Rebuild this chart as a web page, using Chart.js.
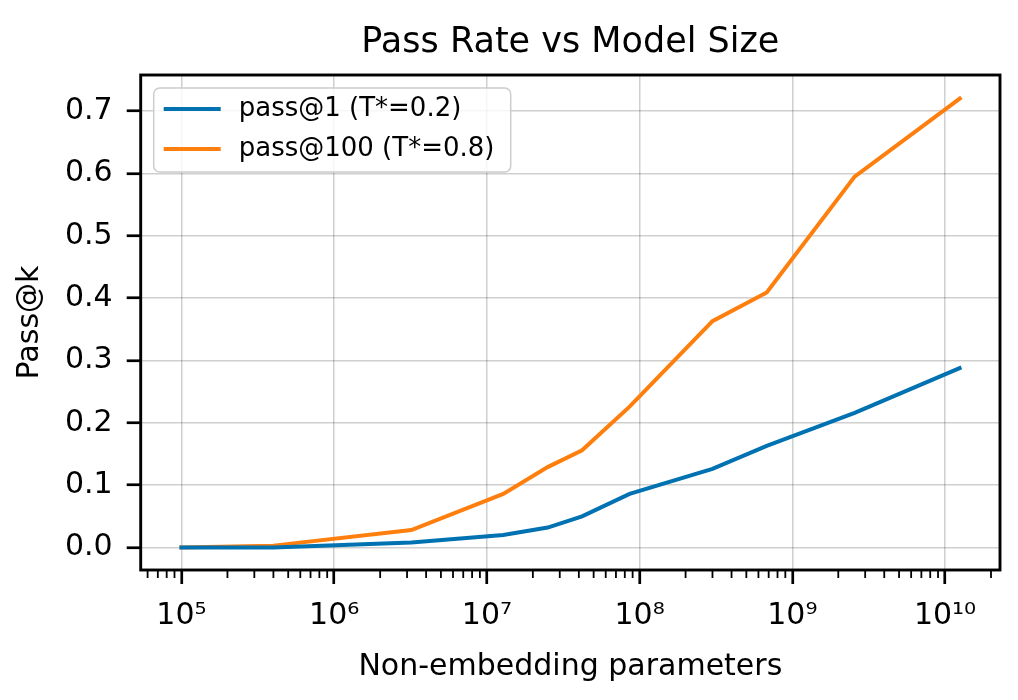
<!DOCTYPE html>
<html>
<head>
<meta charset="utf-8">
<title>Pass Rate vs Model Size</title>
<script src="https://cdn.jsdelivr.net/npm/chart.js@4.4.0/dist/chart.umd.min.js"></script>
<style>
  html, body { margin: 0; padding: 0; background: #ffffff; }
  #wrap { width: 1018px; height: 700px; }
</style>
</head>
<body>
<div id="wrap"><canvas id="passChart" width="1018" height="700"></canvas></div>
<script>
// Data
const paramCounts = [9.7e4, 4.0e5, 3.2e6, 1.28e7, 2.5e7, 4.2e7, 8.6e7, 3.0e8, 6.8e8, 2.56e9, 1.28e10];
const pass1 = [0.000, 0.000, 0.008, 0.020, 0.032, 0.050, 0.086, 0.126, 0.163, 0.216, 0.289];
const pass100 = [0.000, 0.003, 0.028, 0.086, 0.129, 0.156, 0.226, 0.363, 0.409, 0.595, 0.722];
const seriesLabels = ['pass@1 (T*=0.2)', 'pass@100 (T*=0.8)'];
const yTicks = [0.0, 0.1, 0.2, 0.3, 0.4, 0.5, 0.6, 0.7];
const xDecades = [4, 5, 6, 7, 8, 9, 10];

const FONT = '"DejaVu Sans", sans-serif';
const SUP = { '0': '⁰', '1': '¹', '2': '²', '3': '³', '4': '⁴', '5': '⁵', '6': '⁶', '7': '⁷', '8': '⁸', '9': '⁹' };
const X_MIN = Math.pow(10, 4.733);
const X_MAX = Math.pow(10, 10.36);

Chart.defaults.font.family = FONT;
Chart.defaults.color = '#000';

function toPoints(ys) {
    return paramCounts.map((x, i) => ({ x: x, y: ys[i] }));
}

function isDecade(v) {
    const l = Math.log10(v);
    return Math.abs(l - Math.round(l)) < 1e-9;
}

// Frame round the plot, minor log ticks and the boxed legend
const decorations = {
    id: 'decorations',
    afterDatasetsDraw(chart) {
        const ctx = chart.ctx;
        const area = chart.chartArea;
        const xs = chart.scales.x;
        ctx.save();

        // minor ticks
        ctx.strokeStyle = '#000';
        ctx.lineWidth = 1.8;
        xs.ticks.forEach(t => {
            if (t.major) return;
            const px = xs.getPixelForValue(t.value);
            ctx.beginPath();
            ctx.moveTo(px, area.bottom);
            ctx.lineTo(px, area.bottom + 8);
            ctx.stroke();
        });

        // frame
        ctx.lineWidth = 2.9;
        ctx.strokeRect(area.left, area.top, area.right - area.left, area.bottom - area.top);

        // legend
        const x0 = area.left + 13, y0 = area.top + 13, w = 357, h = 84;
        ctx.fillStyle = 'rgba(255,255,255,0.8)';
        ctx.strokeStyle = '#cccccc';
        ctx.lineWidth = 1.5;
        ctx.beginPath();
        ctx.roundRect(x0, y0, w, h, 6);
        ctx.fill();
        ctx.stroke();
        ctx.font = '26px ' + FONT;
        ctx.textBaseline = 'middle';
        chart.data.datasets.forEach((ds, i) => {
            const y = y0 + 21 + i * 40;
            ctx.strokeStyle = ds.borderColor;
            ctx.lineWidth = ds.borderWidth;
            ctx.beginPath();
            ctx.moveTo(x0 + 10, y);
            ctx.lineTo(x0 + 67, y);
            ctx.stroke();
            ctx.fillStyle = '#000';
            ctx.fillText(ds.label, x0 + 85, y);
        });
        ctx.restore();
    }
};

const ctx = document.getElementById('passChart').getContext('2d');
new Chart(ctx, {
    type: 'line',
    data: {
        datasets: [{
            label: seriesLabels[0],
            data: toPoints(pass1),
            borderColor: '#0072b2',
            borderWidth: 4,
            pointRadius: 0,
            tension: 0
        }, {
            label: seriesLabels[1],
            data: toPoints(pass100),
            borderColor: '#ff7f0e',
            borderWidth: 4,
            pointRadius: 0,
            tension: 0
        }]
    },
    options: {
        responsive: false,
        animation: false,
        devicePixelRatio: 1,
        layout: { padding: { left: 0, right: 18, top: 0, bottom: 0 } },
        plugins: {
            legend: { display: false },
            tooltip: { enabled: false },
            title: {
                display: true,
                fullSize: false,
                text: 'Pass Rate vs Model Size',
                color: '#000',
                font: { size: 35, weight: 'normal' },
                padding: { top: 22, bottom: 11 }
            }
        },
        scales: {
            x: {
                type: 'logarithmic',
                bounds: 'data',
                min: X_MIN,
                max: X_MAX,
                afterBuildTicks: scale => {
                    const ticks = [];
                    xDecades.forEach(n => {
                        for (let k = 1; k <= 9; k++) {
                            const v = k * Math.pow(10, n);
                            if (v >= X_MIN && v <= X_MAX) ticks.push({ value: v, major: k === 1 });
                        }
                    });
                    scale.ticks = ticks;
                },
                afterFit: scale => { scale.height = 130; },
                ticks: {
                    autoSkip: false,
                    maxRotation: 0,
                    padding: 14,
                    font: { size: 30 },
                    callback: v => {
                        if (!isDecade(v)) return '';
                        const n = String(Math.round(Math.log10(v)));
                        return '10' + n.split('').map(c => SUP[c]).join('');
                    }
                },
                grid: {
                    color: c => (c.tick && c.tick.major) ? 'rgba(0,0,0,0.19)' : 'rgba(0,0,0,0)',
                    lineWidth: 1.5,
                    tickLength: 14,
                    tickWidth: 2.7,
                    tickColor: c => (c.tick && c.tick.major) ? '#000' : 'rgba(0,0,0,0)'
                },
                border: { display: false },
                title: {
                    display: true,
                    text: 'Non-embedding parameters',
                    font: { size: 30 },
                    padding: { top: 0, bottom: 15 }
                }
            },
            y: {
                type: 'linear',
                bounds: 'data',
                min: -0.0361,
                max: 0.758,
                afterBuildTicks: scale => {
                    scale.ticks = yTicks.map(v => ({ value: v }));
                },
                afterFit: scale => { scale.width = 140.7; },
                ticks: {
                    padding: 14,
                    font: { size: 30 },
                    callback: v => v.toFixed(1)
                },
                grid: {
                    color: 'rgba(0,0,0,0.19)',
                    lineWidth: 1.5,
                    tickLength: 14,
                    tickWidth: 2.7,
                    tickColor: '#000'
                },
                border: { display: false },
                title: {
                    display: true,
                    text: 'Pass@k',
                    font: { size: 30 },
                    padding: { top: 12, bottom: 0 }
                }
            }
        }
    },
    plugins: [decorations]
});
</script>
</body>
</html>
